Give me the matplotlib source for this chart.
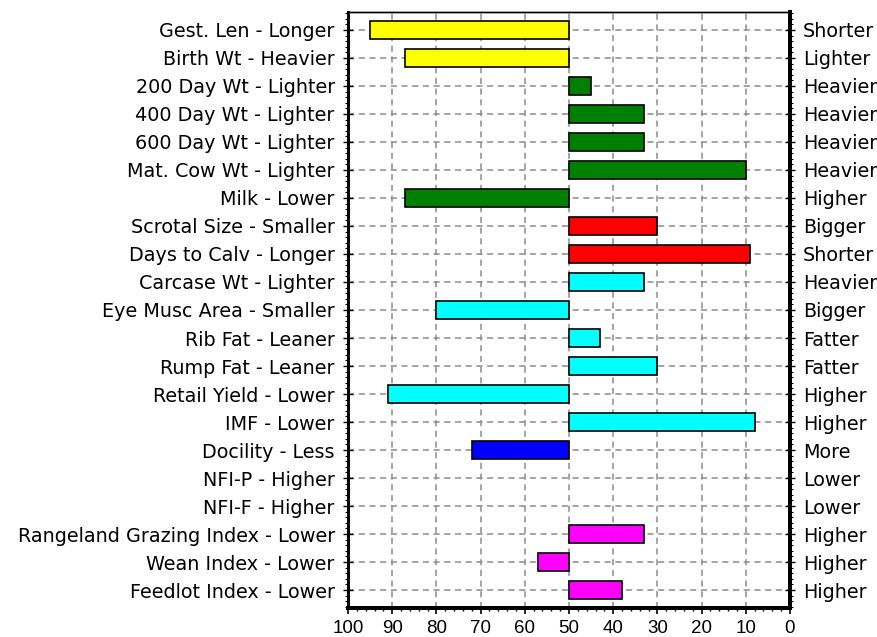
import matplotlib
matplotlib.use('agg')
import matplotlib.pyplot as plt
from matplotlib.ticker import MultipleLocator, AutoMinorLocator

plt.rcParams['font.family'] = ['DejaVu Sans']

left_labels = ['Gest. Len - Longer', 'Birth Wt - Heavier', '200 Day Wt - Lighter',
               '400 Day Wt - Lighter', '600 Day Wt - Lighter', 'Mat. Cow Wt - Lighter',
               'Milk - Lower', 'Scrotal Size - Smaller', 'Days to Calv - Longer',
               'Carcase Wt - Lighter', 'Eye Musc Area - Smaller', 'Rib Fat - Leaner',
               'Rump Fat - Leaner', 'Retail Yield - Lower', 'IMF - Lower', 'Docility - Less',
               'NFI-P - Higher', 'NFI-F - Higher', 'Rangeland Grazing Index - Lower',
               'Wean Index - Lower', 'Feedlot Index - Lower']
right_labels = ['Shorter', 'Lighter', 'Heavier', 'Heavier', 'Heavier', 'Heavier',
                'Higher', 'Bigger', 'Shorter', 'Heavier', 'Bigger', 'Fatter', 'Fatter',
                'Higher', 'Higher', 'More', 'Lower', 'Lower', 'Higher', 'Higher', 'Higher']
# percentile rank, None = no value
values = [95, 87, 45, 33, 33, 10, 87, 30, 9, 33, 80, 43, 30, 91, 8, 72,
          None, None, 33, 57, 38]
colors = ['#ffff00', '#ffff00', '#008000', '#008000', '#008000', '#008000', '#008000',
          '#ff0000', '#ff0000', '#00ffff', '#00ffff', '#00ffff', '#00ffff', '#00ffff',
          '#00ffff', '#0000ff', '#ff00ff', '#ff00ff', '#ff00ff', '#ff00ff', '#ff00ff']
x_ticks = [100, 90, 80, 70, 60, 50, 40, 30, 20, 10, 0]

W, H = 877, 637
fig = plt.figure(figsize=(W / 100, H / 100), dpi=100)
ax = fig.add_axes([348 / W, 1 - 608 / H, (790 - 348) / W, (608 - 12) / H])

ys = list(range(len(left_labels)))
for y, v, c in zip(ys, values, colors):
    if v is None:
        continue
    ax.barh(y, v - 50, left=50, height=0.67, color=c, edgecolor='black',
            linewidth=1.2, zorder=3)

ax.set_xlim(100, 0)
ax.set_ylim(len(ys) - 0.36, -0.64)
ax.set_xticks(x_ticks)
ax.set_xticklabels([str(t) for t in x_ticks], fontfamily='Liberation Sans')
ax.xaxis.set_minor_locator(MultipleLocator(2))
ax.set_yticks(ys)
ax.set_yticklabels(left_labels)
ax.yaxis.set_minor_locator(AutoMinorLocator(5))
ax.grid(True, which='major', color='#8c8c8c', linestyle=(0, (4, 3)), linewidth=1.1, zorder=0)

ax.tick_params(axis='x', which='major', direction='out', length=4.5, width=1.2,
               labelsize=13.5, pad=4)
ax.tick_params(axis='x', which='minor', direction='out', length=2.5, width=1)
ax.tick_params(axis='y', which='major', direction='inout', length=7, width=1,
               labelsize=13.8, pad=6)
ax.tick_params(axis='y', which='minor', direction='out', length=2.5, width=0.8)

ax2 = ax.twinx()
ax2.set_ylim(ax.get_ylim())
ax2.set_yticks(ys)
ax2.set_yticklabels(right_labels)
ax2.yaxis.set_minor_locator(AutoMinorLocator(5))
ax2.tick_params(axis='y', which='major', direction='inout', length=7, width=1,
                labelsize=13.8, pad=6)
ax2.tick_params(axis='y', which='minor', direction='out', length=2.5, width=0.8)

for a in (ax, ax2):
    a.spines['top'].set_linewidth(1.0)
    a.spines['left'].set_linewidth(2.0)
    a.spines['bottom'].set_linewidth(2.8)
    a.spines['right'].set_linewidth(2.8)

fig.savefig('out.png', dpi=100)
